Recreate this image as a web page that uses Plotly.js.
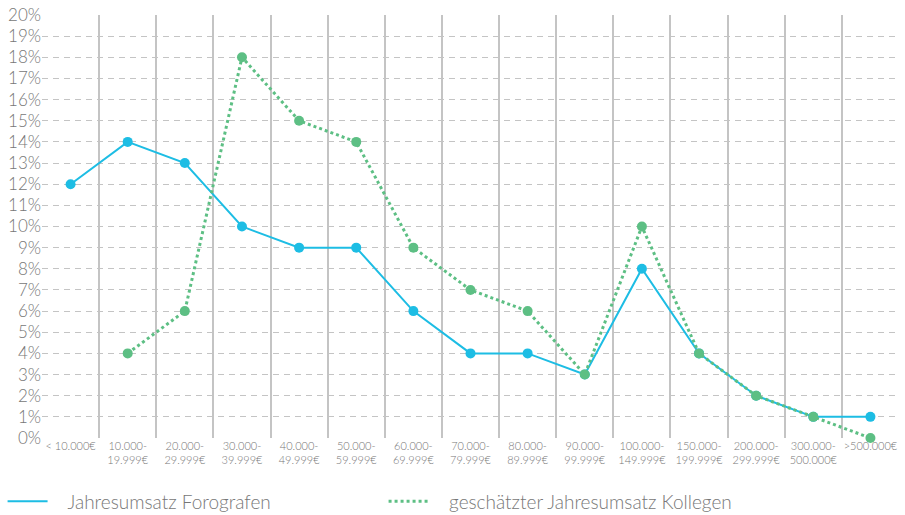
<!DOCTYPE html>
<html>
<head>
<meta charset="utf-8">
<script src="https://cdn.plot.ly/plotly-3.0.1.min.js"></script>
<style>html,body{margin:0;padding:0;background:#fff;}#chart{width:905px;height:515px;}</style>
</head>
<body>
<div id="chart"></div>
<script>
const categories = [
  "< 10.000€", "10.000-<br>19.999€", "20.000-<br>29.999€", "30.000-<br>39.999€",
  "40.000-<br>49.999€", "50.000-<br>59.999€", "60.000-<br>69.999€", "70.000-<br>79.999€",
  "80.000-<br>89.999€", "90.000-<br>99.999€", "100.000-<br>149.999€", "150.000-<br>199.999€",
  "200.000-<br>299.999€", "300.000-<br>500.000€", ">500.000€"
];
const seriesNames = ["Jahresumsatz Forografen", "geschätzter Jahresumsatz Kollegen"];
const fotografen = [12, 14, 13, 10, 9, 9, 6, 4, 4, 3, 8, 4, 2, 1, 1];
const kollegen = [null, 4, 6, 18, 15, 14, 9, 7, 6, 3, 10, 4, 2, 1, 0];
const yTicks = [0,1,2,3,4,5,6,7,8,9,10,11,12,13,14,15,16,17,18,19,20];

const blue = "#1dbde4";
const green = "#5dbf84";
const fontFam = "Lato, 'Open Sans', sans-serif";

const traces = [
  {x: categories, y: fotografen, type: "scatter", mode: "lines+markers",
   line: {color: blue, width: 2}, marker: {color: blue, size: 10}, showlegend: false, cliponaxis: false},
  {x: categories, y: kollegen, type: "scatter", mode: "lines+markers",
   line: {color: green, width: 3, dash: "dot"}, marker: {color: green, size: 10}, showlegend: false, cliponaxis: false},
  {x: [null], y: [null], type: "scatter", mode: "lines", name: "   " + seriesNames[0],
   line: {color: blue, width: 2}},
  {x: [null], y: [null], type: "scatter", mode: "lines", name: "   " + seriesNames[1],
   line: {color: green, width: 3, dash: "dot"}}
];

const layout = {
  width: 905, height: 515,
  margin: {l: 42, r: 6, t: 15, b: 77, autoexpand: false},
  paper_bgcolor: "#fff", plot_bgcolor: "#fff",
  font: {family: fontFam, color: "#777"},
  xaxis: {
    type: "category", categoryorder: "array", categoryarray: categories,
    range: [-0.5, 14.5], tickson: "boundaries", ticks: "",
    tickangle: 0, automargin: false,
    showgrid: true, gridcolor: "#c4c4c4", gridwidth: 1.5,
    showline: false, zeroline: false,
    tickfont: {size: 11, color: "#777", family: fontFam, weight: 300}
  },
  yaxis: {
    range: [0, 20], tickvals: yTicks, ticktext: yTicks.map(v => v + "%"),
    automargin: false,
    showgrid: true, gridcolor: "#c4c4c4", gridwidth: 1.2, griddash: "6px,5px",
    zeroline: false, showline: false, ticks: "",
    tickfont: {size: 17, color: "#777", family: fontFam, weight: 300}
  },
  showlegend: true,
  legend: {
    orientation: "h", x: -0.046, xanchor: "left", y: -0.150, yanchor: "middle",
    font: {size: 19, color: "#777", family: fontFam, weight: 300},
    entrywidth: 326, entrywidthmode: "pixels", itemwidth: 40,
    bgcolor: "rgba(0,0,0,0)"
  }
};

Plotly.newPlot("chart", traces, layout, {displayModeBar: false});
</script>
</body>
</html>
